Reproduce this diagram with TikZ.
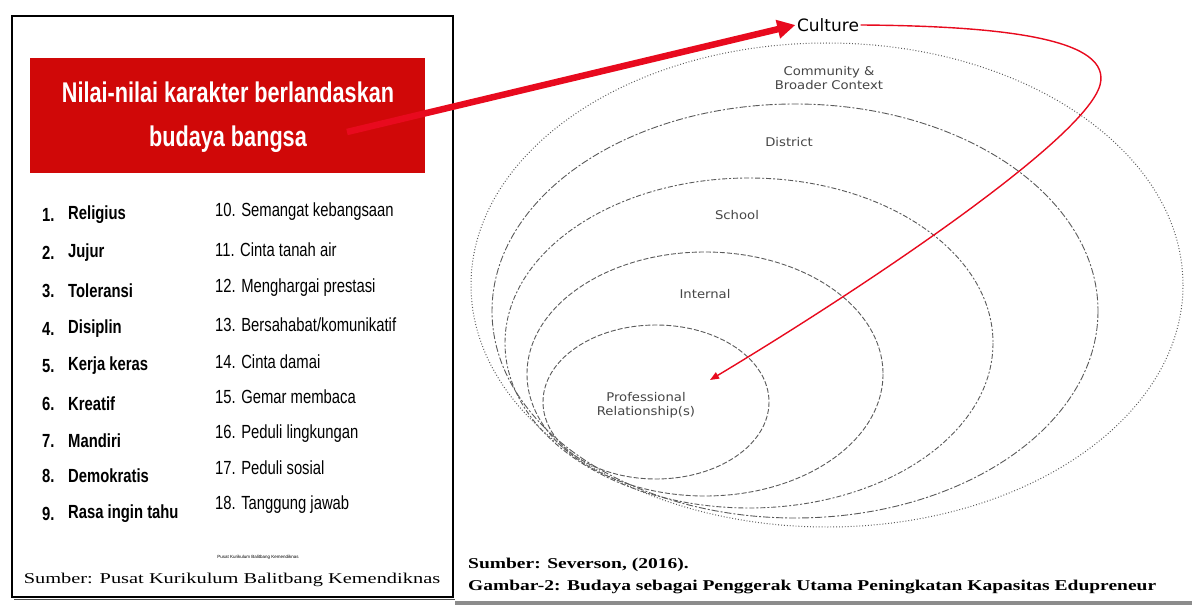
\documentclass[tikz,border=0pt]{standalone}
\usepackage{fontspec}
\setmainfont{Liberation Serif}
\setsansfont{Liberation Sans}
\newfontfamily\narrowfont[FakeStretch=0.76]{Liberation Sans}
\newfontfamily\listfont[FakeStretch=0.78]{Liberation Sans}
\newfontfamily\widefont[FakeStretch=1.30]{Liberation Serif}
\newfontfamily\widecapfont[FakeStretch=1.36]{Liberation Serif}
\newfontfamily\lblfont[FakeStretch=1.10]{DejaVu Sans}
\newfontfamily\culfont{DejaVu Sans}
\usetikzlibrary{arrows.meta}
\definecolor{boxred}{RGB}{208,8,8}
\definecolor{arrred}{RGB}{232,10,30}
\definecolor{ringgray}{RGB}{90,90,90}
\definecolor{lblgray}{RGB}{70,70,70}
\tikzset{
  itemL/.style={anchor=west,inner sep=0pt,font=\listfont\bfseries\fontsize{19}{21}\selectfont},
  itemR/.style={anchor=west,inner sep=0pt,font=\listfont\fontsize{19}{21}\selectfont},
  ring/.style={draw=ringgray,line width=0.9pt},
  ringlbl/.style={font=\lblfont\fontsize{12}{13.5}\selectfont,text=lblgray,align=center,inner sep=0pt},
  caption/.style={anchor=west,inner sep=0pt,font=\widefont\bfseries\fontsize{15}{16}\selectfont}
}
\begin{document}
\begin{tikzpicture}[x=1pt,y=-1pt]
\useasboundingbox (0,0) rectangle (1192,607);
\fill[white] (0,0) rectangle (1192,607);
% left panel frame
\draw[line width=2.5pt,black] (12,16) rectangle (453,597);
\draw[line width=1.5pt,black!70] (14,599.5) -- (455,599.5);
% red title box
\node[fill=boxred,minimum width=395pt,minimum height=115pt,anchor=north west,inner sep=0pt] (title) at (30,58) {};
\node[text=white,font=\narrowfont\bfseries\fontsize{28.5}{44}\selectfont,align=center,inner sep=0pt] (titletext) at (228,117) {Nilai-nilai karakter berlandaskan\\budaya bangsa};
\coordinate (arrstart) at (347,132);
% list left
\node[itemL] (n1) at (42,215) {1.}; \node[itemL] (t1) at (68,215) {Religius};
\node[itemL] (n2) at (42,253) {2.}; \node[itemL] (t2) at (68,253) {Jujur};
\node[itemL] (n3) at (42,291) {3.}; \node[itemL] (t3) at (68,291) {Toleransi};
\node[itemL] (n4) at (42,329) {4.}; \node[itemL] (t4) at (68,329) {Disiplin};
\node[itemL] (n5) at (42,366) {5.}; \node[itemL] (t5) at (68,366) {Kerja keras};
\node[itemL] (n6) at (42,404) {6.}; \node[itemL] (t6) at (68,404) {Kreatif};
\node[itemL] (n7) at (42,441) {7.}; \node[itemL] (t7) at (68,441) {Mandiri};
\node[itemL] (n8) at (42,476) {8.}; \node[itemL] (t8) at (68,476) {Demokratis};
\node[itemL] (n9) at (42,514) {9.}; \node[itemL] (t9) at (68,514) {Rasa ingin tahu};
% list right
\node[itemR] (r10) at (215,212) {10. Semangat kebangsaan};
\node[itemR] (r11) at (215,250) {11. Cinta tanah air};
\node[itemR] (r12) at (215,288) {12. Menghargai prestasi};
\node[itemR] (r13) at (215,325) {13. Bersahabat/komunikatif};
\node[itemR] (r14) at (215,362) {14. Cinta damai};
\node[itemR] (r15) at (215,397) {15. Gemar membaca};
\node[itemR] (r16) at (215,434) {16. Peduli lingkungan};
\node[itemR] (r17) at (215,468) {17. Peduli sosial};
\node[itemR] (r18) at (215,505) {18. Tanggung jawab};
% sources left
\node[font=\sffamily\fontsize{4.5}{5}\selectfont,inner sep=0pt] (tiny) at (258,557) {Pusat Kurikulum Balitbang Kemendiknas};
\node[font=\widecapfont\fontsize{15}{16}\selectfont,inner sep=0pt] (srcL) at (232,580) {Sumber: Pusat Kurikulum Balitbang Kemendiknas};
% ellipses
\draw[ring,dotted,line width=1pt] (827,285) ellipse [x radius=356, y radius=242];
\draw[ring,dash pattern=on 7pt off 2pt on 2pt off 2pt] (795,311) ellipse [x radius=303, y radius=207];
\draw[ring,dash pattern=on 5pt off 2pt on 2pt off 2pt] (749,343) ellipse [x radius=244, y radius=165];
\draw[ring,dash pattern=on 5pt off 2pt] (705,374) ellipse [x radius=178, y radius=122];
\draw[ring,dash pattern=on 5pt off 2pt] (656,402) ellipse [x radius=113, y radius=77];
% labels
\node[font=\culfont\fontsize{17}{18}\selectfont,inner sep=1.5pt] (culture) at (828,25) {Culture};
\node[ringlbl] (comm) at (829,78) {Community \&\\Broader Context};
\node[ringlbl] (district) at (789,142) {District};
\node[ringlbl] (school) at (737,215) {School};
\node[ringlbl] (internal) at (705,294) {Internal};
\node[ringlbl] (prof) at (646,405) {Professional\\Relationship(s)};
\coordinate (reltip) at (710,380);
% arrows
\draw[arrred,line width=6.5pt,-{Triangle[length=18pt,width=18pt]}] (arrstart) -- (culture.west);
\draw[arrred,line width=1.4pt,-{Triangle[length=9pt,width=7pt]}] (culture.east) .. controls (1010,26) and (1112,40) .. (1100,85) .. controls (1085,140) and (860,290) .. (reltip);
% captions right
\node[caption] (sev) at (468,565) {Sumber: Severson, (2016).};
\node[caption] (gam) at (468,587) {Gambar-2: Budaya sebagai Penggerak Utama Peningkatan Kapasitas Edupreneur};
\draw[line width=4pt,black!45] (455,603) -- (1192,603);
\end{tikzpicture}
\end{document}
